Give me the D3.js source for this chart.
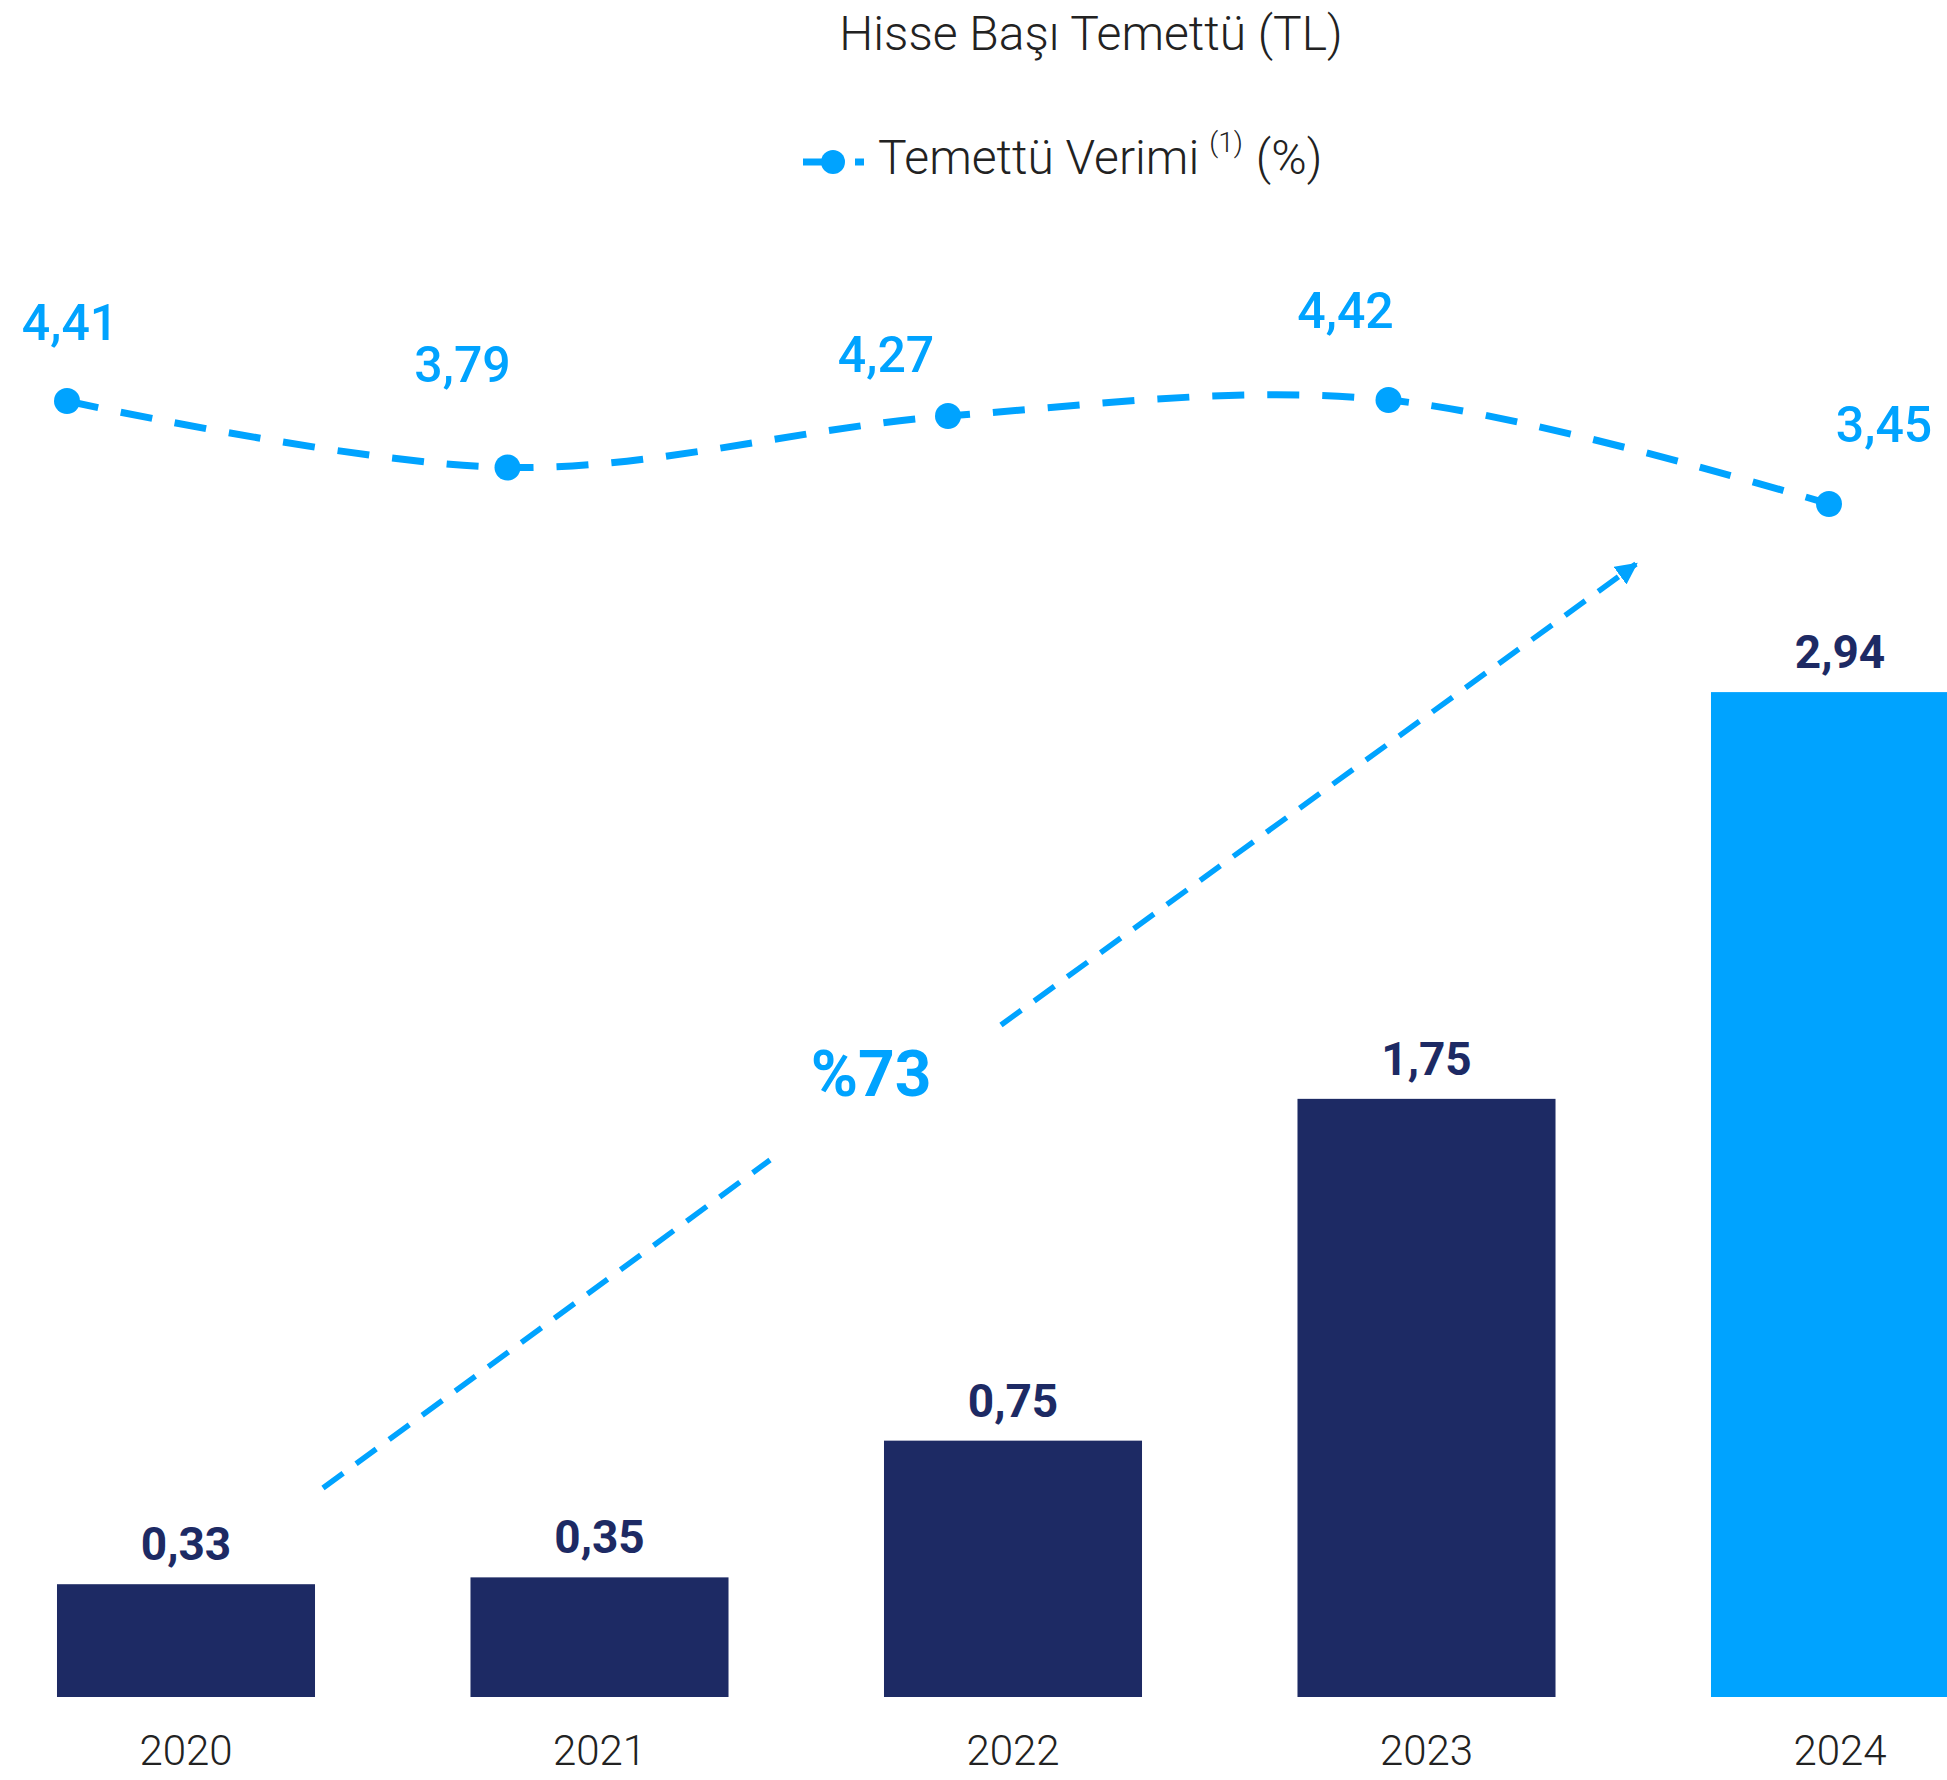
<!DOCTYPE html>
<html>
<head>
<meta charset="utf-8">
<script src="https://cdn.jsdelivr.net/npm/d3@7"></script>
<style>
  body { margin:0; background:#fff; }
  svg { display:block; font-family:Roboto, "Noto Sans", sans-serif; }
</style>
</head>
<body>
<div id="chart"></div>
<script>
// data
const years = ["2020", "2021", "2022", "2023", "2024"];
const dividendPerShare = [0.33, 0.35, 0.75, 1.75, 2.94];   // Hisse Başı Temettü (TL)
const dividendYield = [4.41, 3.79, 4.27, 4.42, 3.45];      // Temettü Verimi (%)
const growthLabel = "%73";

// label nudges for the yield labels (px, relative to the point)
const yieldLabelDx = [3, -45, -62, -43, 55];
const yieldLabelDy = [-61, -86, -44, -72, -62];

const W = 1947, H = 1780;
const navy = "#1d2a64", blue = "#00a3ff", ink = "#222";

const svg = d3.select("#chart").append("svg").attr("width", W).attr("height", H);

svg.append("defs").append("marker")
  .attr("id", "arrow")
  .attr("viewBox", "0 -5 10 10")
  .attr("refX", 9).attr("refY", 0)
  .attr("markerUnits", "userSpaceOnUse")
  .attr("markerWidth", 22).attr("markerHeight", 22)
  .attr("orient", "auto")
  .append("path").attr("d", "M0,-5L10,0L0,5Z").attr("fill", blue);

// scales
const x = d3.scaleBand().domain(years).range([-20.75, 2046.75]).paddingInner(0.376).paddingOuter(0.188);
const yBar = d3.scaleLinear().domain([0, 3]).range([1697, 1697 - 3 * 341.8]);
const xLine = d3.scalePoint().domain(years).range([67, 1829]);
const yLine = d3.scaleLinear().domain([3, 5]).range([552.2, 337.8]);

// title + legend
svg.append("text").attr("x", 1091).attr("y", 50).attr("text-anchor", "middle")
  .attr("font-size", 48).attr("font-weight", 300).attr("fill", ink)
  .text("Hisse Başı Temettü (TL)");

const lg = svg.append("g");
lg.append("line").attr("x1", 803).attr("x2", 864).attr("y1", 162).attr("y2", 162)
  .attr("stroke", blue).attr("stroke-width", 7).attr("stroke-dasharray", "32 20");
lg.append("circle").attr("cx", 833).attr("cy", 162).attr("r", 12).attr("fill", blue);
const lt = lg.append("text").attr("x", 878).attr("y", 174)
  .attr("font-size", 48).attr("font-weight", 300).attr("fill", ink);
lt.append("tspan").text("Temettü Verimi");
lt.append("tspan").attr("dx", 10).attr("dy", -22).attr("font-size", 28).text("(1)");
lt.append("tspan").attr("dx", 13).attr("dy", 22).text("(%)");

// bars
const bars = years.map((yr, i) => ({ yr, v: dividendPerShare[i], last: i === years.length - 1 }));

svg.append("g").selectAll("rect").data(bars).join("rect")
  .attr("x", d => x(d.yr))
  .attr("y", d => yBar(d.v))
  .attr("width", x.bandwidth())
  .attr("height", d => yBar(0) - yBar(d.v))
  .attr("fill", d => d.last ? blue : navy);

svg.append("g").selectAll("text").data(bars).join("text")
  .attr("x", d => x(d.yr) + x.bandwidth() / 2)
  .attr("y", d => yBar(d.v) - 24)
  .attr("text-anchor", "middle")
  .attr("font-size", 46).attr("font-weight", 700).attr("fill", navy)
  .text(d => d3.format(".2f")(d.v).replace(".", ","));

// x axis labels
svg.append("g").selectAll("text").data(years).join("text")
  .attr("x", d => x(d) + x.bandwidth() / 2)
  .attr("y", 1765)
  .attr("text-anchor", "middle")
  .attr("font-size", 42).attr("font-weight", 300).attr("fill", ink)
  .text(d => d);

// growth arrow
const ann = svg.append("g").attr("stroke", blue).attr("stroke-width", 5.5).attr("stroke-dasharray", "25 16");
ann.append("line").attr("x1", 323).attr("y1", 1488).attr("x2", 770).attr("y2", 1160);
ann.append("line").attr("x1", 1001).attr("y1", 1025).attr("x2", 1636).attr("y2", 564)
  .attr("marker-end", "url(#arrow)");
svg.append("text").attr("x", 871).attr("y", 1096).attr("text-anchor", "middle")
  .attr("font-size", 64).attr("font-weight", 700).attr("fill", blue)
  .text(growthLabel);

// yield line
const pts = years.map((yr, i) => ({ yr, v: dividendYield[i], i }));
const line = d3.line().x(d => xLine(d.yr)).y(d => yLine(d.v)).curve(d3.curveCardinal.tension(0));

svg.append("path").datum(pts)
  .attr("d", line)
  .attr("fill", "none").attr("stroke", blue).attr("stroke-width", 7)
  .attr("stroke-dasharray", "32 23");

svg.append("g").selectAll("circle").data(pts).join("circle")
  .attr("cx", d => xLine(d.yr)).attr("cy", d => yLine(d.v)).attr("r", 13)
  .attr("fill", blue);

svg.append("g").selectAll("text").data(pts).join("text")
  .attr("x", d => xLine(d.yr) + yieldLabelDx[d.i])
  .attr("y", d => yLine(d.v) + yieldLabelDy[d.i])
  .attr("text-anchor", "middle")
  .attr("font-size", 50).attr("font-weight", 500).attr("fill", blue)
  .text(d => d3.format(".2f")(d.v).replace(".", ","));
</script>
</body>
</html>
